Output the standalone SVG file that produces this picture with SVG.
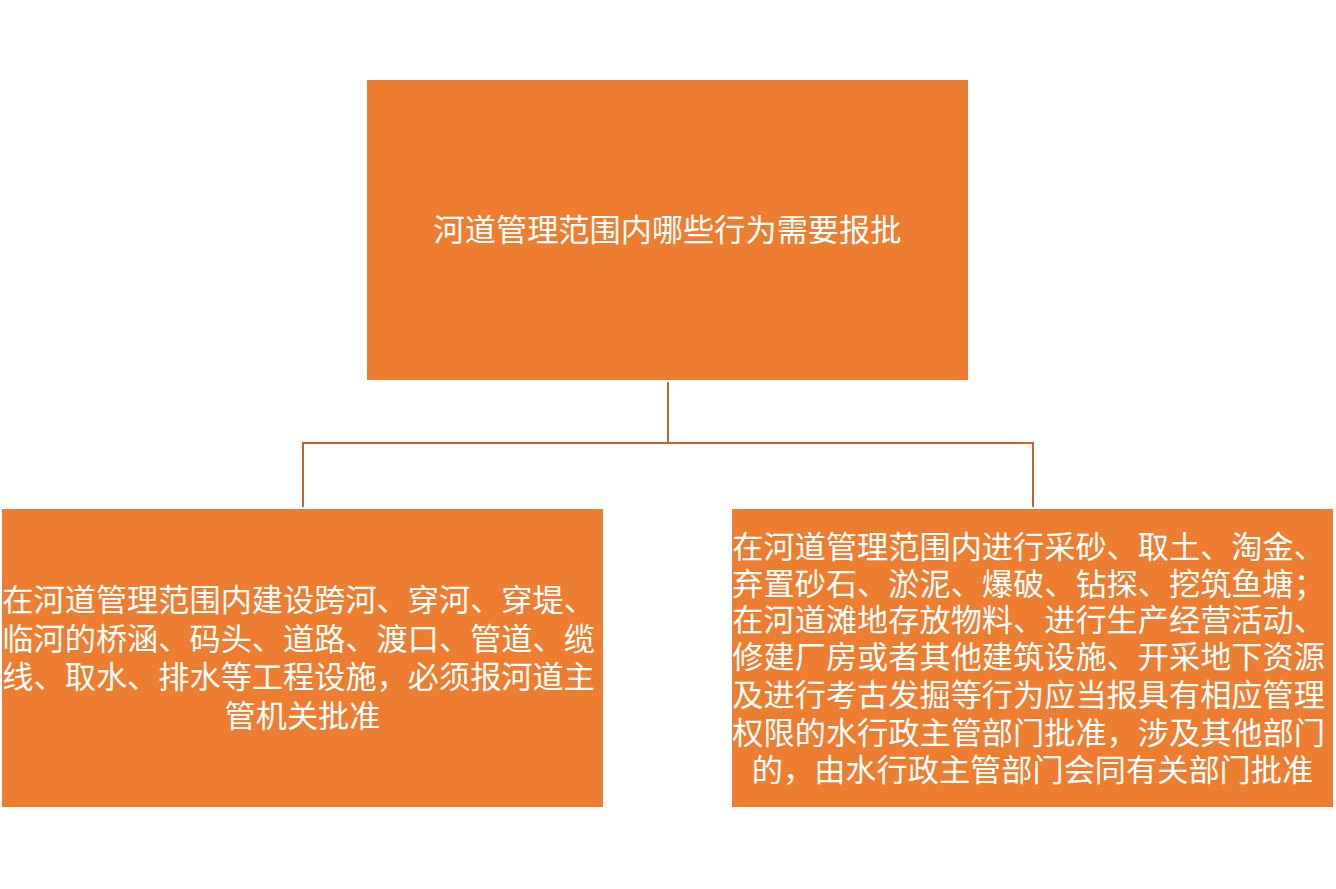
<svg xmlns="http://www.w3.org/2000/svg" width="1336" height="889" viewBox="0 0 1336 889">
<style>
.box{fill:#ED7D31;}
.t{fill:#FFFFFF;font-family:"Liberation Serif","Noto Sans CJK SC",serif;font-size:31.2px;text-anchor:middle;}
.c{fill:none;stroke:#C0652E;stroke-width:2;}
</style>
<rect width="1336" height="889" fill="#FFFFFF"/>
<g id="connectors">
<path class="c" d="M668,382 V443 M303,507 V443 H1033 V507"/>
</g>
<g id="node-root">
<rect class="box" x="367" y="80" width="601" height="300"/>
<text class="t" x="667.5" y="241">河道管理范围内哪些行为需要报批</text>
</g>
<g id="node-left">
<rect class="box" x="2" y="509" width="601" height="298"/>
<text class="t">
<tspan x="302.5" y="611">在河道管理范围内建设跨河、穿河、穿堤、</tspan>
<tspan x="302.5" y="650">临河的桥涵、码头、道路、渡口、管道、缆</tspan>
<tspan x="302.5" y="688">线、取水、排水等工程设施，必须报河道主</tspan>
<tspan x="302.5" y="727">管机关批准</tspan>
</text>
</g>
<g id="node-right">
<rect class="box" x="732" y="509" width="601" height="298"/>
<text class="t">
<tspan x="1032.5" y="558">在河道管理范围内进行采砂、取土、淘金、</tspan>
<tspan x="1032.5" y="595">弃置砂石、淤泥、爆破、钻探、挖筑鱼塘；</tspan>
<tspan x="1032.5" y="631">在河道滩地存放物料、进行生产经营活动、</tspan>
<tspan x="1032.5" y="668">修建厂房或者其他建筑设施、开采地下资源</tspan>
<tspan x="1032.5" y="706">及进行考古发掘等行为应当报具有相应管理</tspan>
<tspan x="1032.5" y="744">权限的水行政主管部门批准，涉及其他部门</tspan>
<tspan x="1032.5" y="781">的，由水行政主管部门会同有关部门批准</tspan>
</text>
</g>
</svg>
